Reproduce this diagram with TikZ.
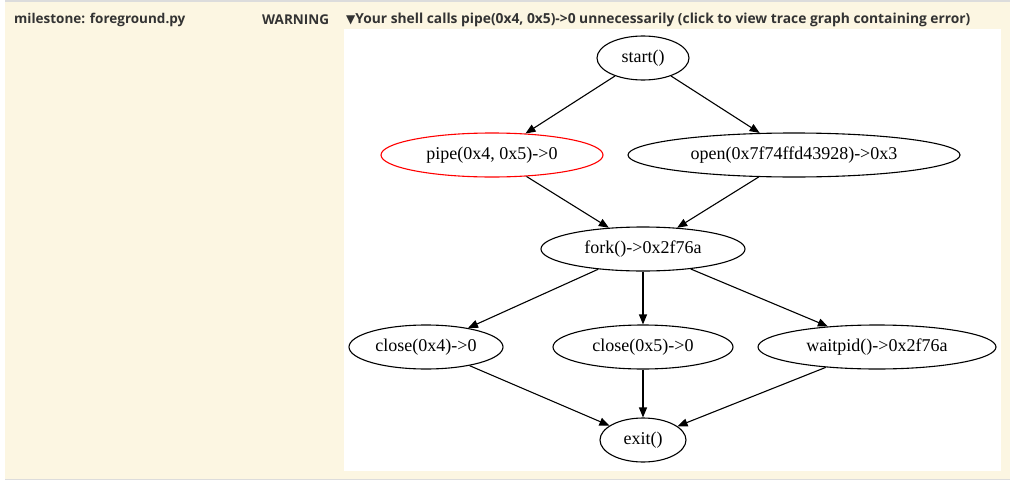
\documentclass[tikz,border=0pt]{standalone}
\usepackage{fontspec}
\setmainfont{Liberation Serif}
\newfontfamily\hdrfont{Open Sans}
\newfontfamily\symfont{DejaVu Sans}
\usetikzlibrary{shapes.geometric,arrows.meta}
\definecolor{cream}{HTML}{FCF6E2}
\definecolor{rule}{HTML}{DCDCDC}
\definecolor{hdr}{HTML}{333333}
\tikzset{
  call/.style={ellipse, draw=black, line width=1.1pt, inner sep=0pt, font=\fontsize{18}{20}\selectfont, minimum height=44pt},
  errcall/.style={call, draw=red},
  edge/.style={-{Triangle[length=10pt,width=8pt]}, line width=1.1pt},
  hdrtext/.style={font=\hdrfont\bfseries\fontsize{13.5}{15}\selectfont, text=hdr, inner sep=0pt, anchor=west}
}
\begin{document}
\begin{tikzpicture}[x=1pt,y=-1pt]
\useasboundingbox (0,0) rectangle (1010,482);
\fill[cream] (5,0) rectangle (1010,480);
\fill[rule] (5,0) rectangle (1010,1.5);
\fill[rule] (5,478.5) rectangle (1010,480);
\fill[white] (344,29) rectangle (1001,471);
\node[hdrtext] (ms) at (14,19.5) {milestone: foreground.py};
\node[hdrtext] (warn) at (262,19.5) {WARNING};
\node[hdrtext, font=\hdrfont\bfseries\fontsize{13.8}{15}\selectfont] (msg) at (346,19.5) {{\symfont\fontsize{12}{12}\selectfont ▼}Your shell calls pipe(0x4, 0x5)->0 unnecessarily (click to view trace graph containing error)};

\node[call, minimum width=92pt] (start) at (643,58) {start()};
\node[errcall, minimum width=222pt] (pipe) at (492,155) {pipe(0x4, 0x5)->0};
\node[call, minimum width=332pt] (open) at (794,155) {open(0x7f74ffd43928)->0x3};
\node[call, minimum width=204pt] (fork) at (643,249) {fork()->0x2f76a};
\node[call, minimum width=154pt] (c4) at (426,347) {close(0x4)->0};
\node[call, minimum width=180pt] (c5) at (643,347) {close(0x5)->0};
\node[call, minimum width=238pt] (wait) at (877,347) {waitpid()->0x2f76a};
\node[call, minimum width=86pt] (exit) at (643,440) {exit()};

\draw[edge] (start) -- (pipe);
\draw[edge] (start) -- (open);
\draw[edge] (pipe) -- (fork);
\draw[edge] (open) -- (fork);
\draw[edge] (fork) -- (c4);
\draw[edge] (fork) -- (c5);
\draw[edge] (fork) -- (wait);
\draw[edge] (c4) -- (exit);
\draw[edge] (c5) -- (exit);
\draw[edge] (wait) -- (exit);
\end{tikzpicture}
\end{document}
